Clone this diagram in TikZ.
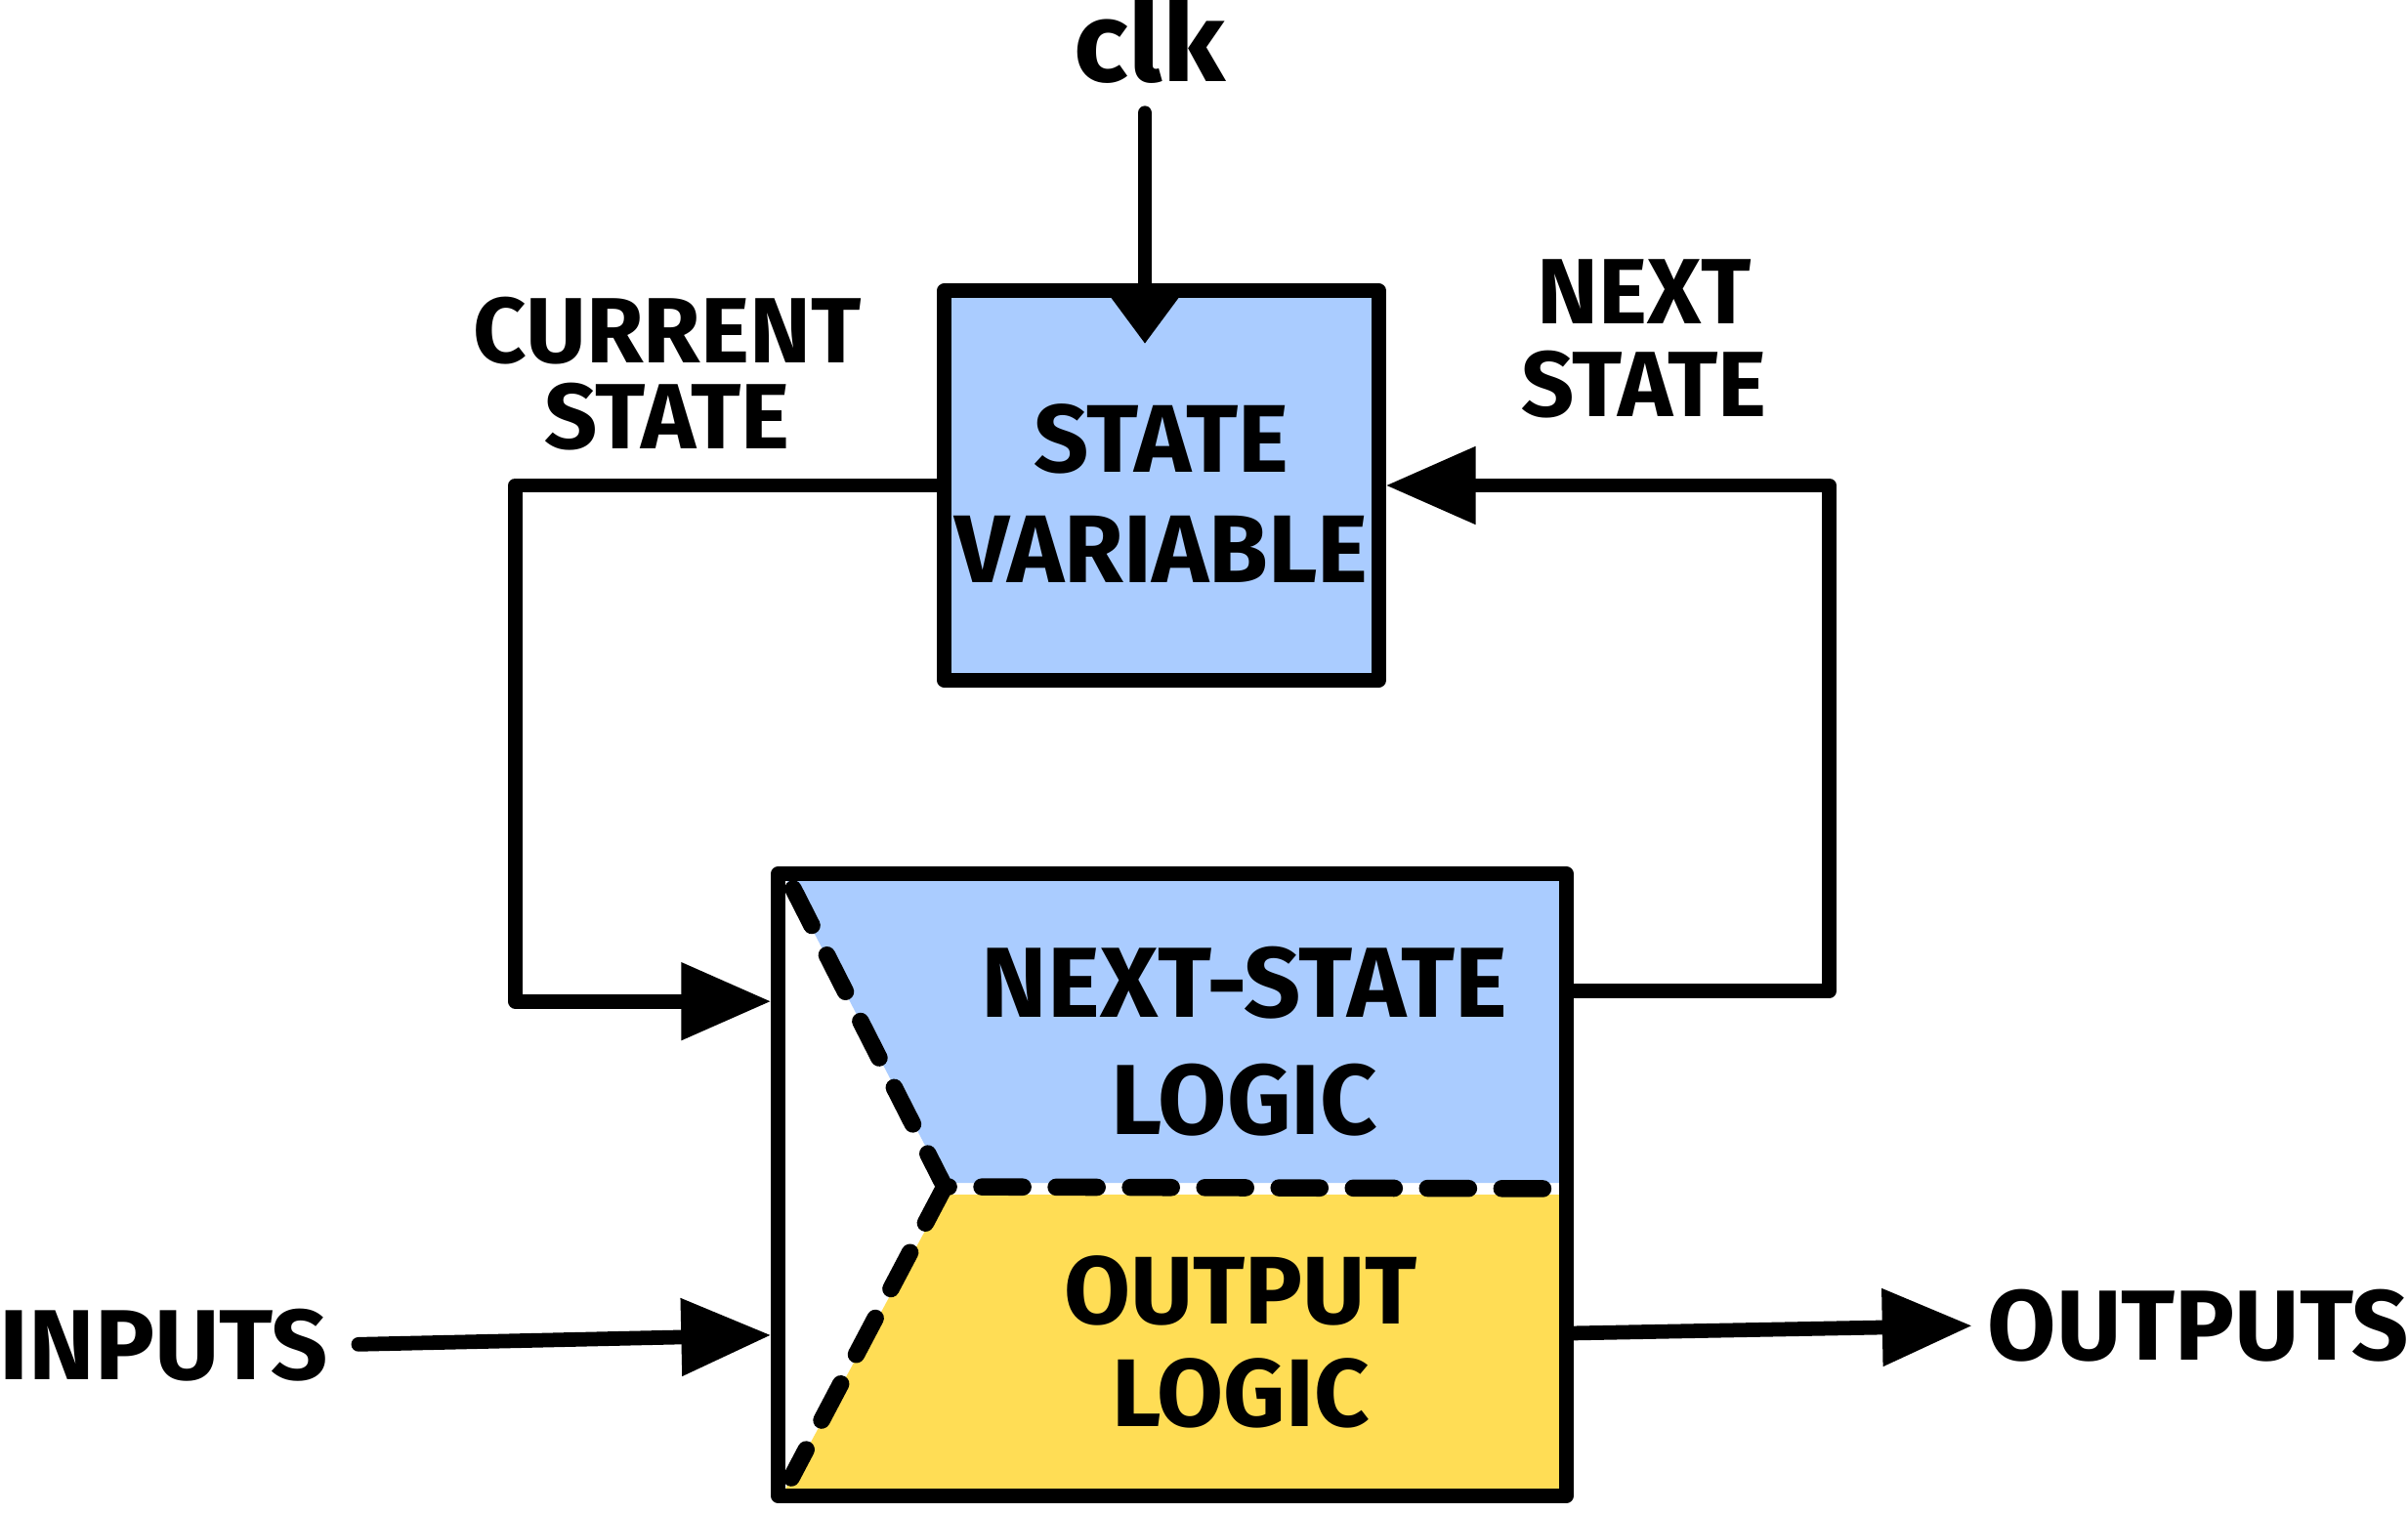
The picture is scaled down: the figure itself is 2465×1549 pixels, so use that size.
\documentclass[tikz,border=0pt]{standalone}
\usepackage{fontspec}
\setmainfont{Fira Sans}
\usetikzlibrary{arrows.meta,calc}
\definecolor{nsblue}{RGB}{170,204,255}
\definecolor{outyellow}{RGB}{255,221,85}

\begin{document}
\begin{tikzpicture}[x=0.01cm,y=-0.01cm,
  wire/.style={line width=4.2pt, line cap=round, line join=round},
  tipped/.style={wire, -{Triangle[length=0.92cm,width=0.76cm]}},
  lbl/.style={font=\fontsize{27}{25}\selectfont\bfseries, align=center, inner sep=0pt},
  boxlbl/.style={font=\fontsize{28}{30}\selectfont\bfseries, align=center, inner sep=0pt},
  split/.style={line width=5pt, line cap=round, dash pattern=on 0.42cm off 0.34cm},
  block/.style={draw, line width=4.2pt, line join=round, inner sep=0pt, rectangle}
]
\useasboundingbox (0,0) rectangle (2465,1549);

% coloured halves of the combinational logic block
\fill[nsblue] (803,897) -- (1603,897) -- (1603,1211) -- (967,1211) -- cycle;
\fill[outyellow] (967,1223) -- (1603,1223) -- (1603,1532) -- (800,1532) -- cycle;

% the two blocks
\node[block, fill=nsblue, minimum width=4.44cm, minimum height=3.99cm] (sv) at (1189,497) {};
\node[block, minimum width=8.06cm, minimum height=6.37cm] (logic) at (1200,1213) {};

% dashed partition inside the logic block
\coordinate (apex) at (967,1215);
\draw[split] (812,910) -- (apex) -- (1597,1217);
\draw[split] (apex) -- (810,1513);

% labels
\node[lbl, font=\fontsize{33}{33}\selectfont\bfseries] (clk) at (1177,40) {clk};
\node[lbl] (cur) at (683,383) {CURRENT\\STATE};
\node[lbl, font=\fontsize{27}{27}\selectfont\bfseries] (nxt) at (1683,347) {NEXT\\STATE};
\node[boxlbl, font=\fontsize{28}{32}\selectfont\bfseries] at (1189,505) {STATE\\VARIABLE};
\node[boxlbl, font=\fontsize{29}{34}\selectfont\bfseries] (nsl) at (1274,1066) {NEXT-STATE\\LOGIC};
\node[boxlbl] (outl) at (1270,1374) {OUTPUT\\LOGIC};
\node[lbl, font=\fontsize{29}{29}\selectfont\bfseries] (inp) at (168,1377) {INPUTS};
\node[lbl, font=\fontsize{29}{29}\selectfont\bfseries] (outp) at (2250,1357) {OUTPUTS};

% clock into the state register
\coordinate (clkin) at ($(sv.north)+(-17,62)$);
\draw[wire, -{Triangle[length=0.6cm,width=0.84cm]}, shorten <=0.3cm] (clkin |- clk.south) -- (clkin);

% current state fed back to the logic
\draw[tipped] (sv.west) -- ++(-432,0) |- ($(logic.north west)!0.212!(logic.south west)$);

% next state fed to the register
\draw[tipped] ($(logic.north east)!0.196!(logic.south east)$) -- ++(262,0) |- (sv.east);

% primary inputs and outputs
\draw[tipped, shorten <=0.3cm] (inp.east) -- ($(logic.north west)!0.736!(logic.south west)$);
\draw[tipped, shorten >=0.15cm] ($(logic.north east)!0.733!(logic.south east)$) -- (outp.west);
\end{tikzpicture}
\end{document}
